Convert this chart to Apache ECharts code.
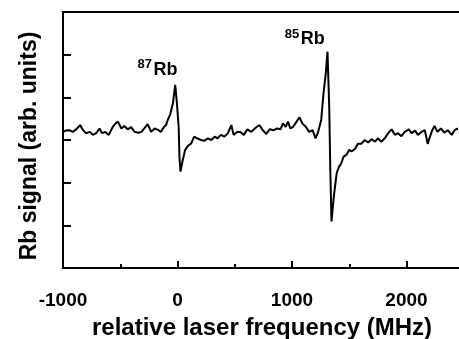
<!DOCTYPE html>
<html>
<head>
<meta charset="utf-8">
<script src="https://cdn.jsdelivr.net/npm/echarts@6/dist/echarts.min.js"></script>
<style>
html,body{margin:0;padding:0;background:#fff;}
#chart{width:459px;height:339px;}
</style>
</head>
<body>
<div id="chart"></div>
<script>
// relative laser frequency (MHz)
const freq = [
-1000,-975,-945,-915,-885,-850,-830,-800,-765,-740,-710,-680,-660,-630,-600,-565,-540,-520,-490,-465,
-435,-405,-375,-345,-315,-290,-260,-230,-200,-165,-145,-120,-100,-85,-65,-40,-20,-5,10,17,
26,46,67,90,120,145,170,205,235,265,295,325,350,380,410,440,470,490,520,550,
580,610,645,675,690,715,745,775,805,840,870,900,920,945,965,985,1010,1040,1065,1090,
1120,1150,1180,1205,1225,1255,1275,1295,1310,1325,1335,1345,1365,1390,1410,1430,1450,1475,1500,1520,
1550,1575,1605,1635,1665,1695,1725,1750,1780,1810,1840,1870,1900,1925,1955,1985,2020,2045,2075,2100,
2130,2160,2185,2205,2225,2245,2270,2300,2330,2360,2395,2420,2450
];
// Rb signal (arb. units)
const signal = [
3.19,3.22,3.23,3.19,3.25,3.35,3.25,3.16,3.19,3.12,3.16,3.27,3.16,3.19,3.12,3.31,3.39,3.43,3.27,3.33,
3.25,3.30,3.19,3.17,3.19,3.27,3.37,3.19,3.27,3.23,3.19,3.30,3.35,3.47,3.59,3.86,4.29,3.86,3.31,2.61,
2.26,2.53,2.77,2.86,2.92,3.08,3.04,3.00,2.98,3.04,3.00,3.08,3.04,3.12,3.08,3.16,3.35,3.12,3.19,3.19,
3.12,3.25,3.19,3.27,3.31,3.35,3.23,3.14,3.25,3.23,3.27,3.25,3.39,3.31,3.43,3.27,3.31,3.43,3.53,3.39,
3.31,3.19,3.23,3.04,3.16,3.47,4.09,4.56,5.07,3.78,2.22,1.09,1.67,2.22,2.37,2.45,2.61,2.65,2.77,2.73,
2.79,2.91,2.91,3.00,2.94,3.02,2.96,3.04,2.96,3.04,3.16,3.25,3.12,3.16,3.09,3.19,3.25,3.16,3.22,3.12,
3.19,3.23,2.91,3.08,3.23,3.33,3.19,3.27,3.17,3.23,3.12,3.23,3.27
];
const xTickLabels = ['-1000','0','1000','2000'];
const xTitle = 'relative laser frequency (MHz)';
const yTitle = 'Rb signal (arb. units)';
// isotope annotations, anchored in data coordinates (MHz, arb. units)
const isotopeMass = ['87', '85'];
const isotopeElement = ['Rb', 'Rb'];
const isotopeAnchorFreq = [-350, 936];
const isotopeAnchorSignal = [4.80, 5.51];

const FONT = '"Liberation Sans", Arial, Helvetica, sans-serif';
const chart = echarts.init(document.getElementById('chart'), null, {renderer:'canvas'});
const pts = freq.map((f,i)=>[f, signal[i]]);

chart.setOption({
  animation:false,
  backgroundColor:'#fff',
  grid:{left:63, top:12, width:458, height:256, outerBoundsMode:'none', containLabel:false,
        show:true, borderColor:'#000', borderWidth:2, backgroundColor:'transparent'},
  xAxis:{
    type:'value', min:-1000, max:3000, interval:1000,
    axisLine:{onZero:false, lineStyle:{color:'#000', width:2}},
    axisTick:{inside:true, length:7, lineStyle:{color:'#000', width:2}},
    minorTick:{show:true, splitNumber:2, length:4, lineStyle:{color:'#000', width:2}},
    splitLine:{show:false},
    axisLabel:{
      color:'#000', fontFamily:FONT, fontWeight:'bold', fontSize:19, margin:23,
      formatter:(v)=> xTickLabels.indexOf(String(v))>=0 ? String(v) : ''
    }
  },
  yAxis:{
    type:'value', min:0, max:6, interval:1,
    axisLine:{show:true, onZero:false, lineStyle:{color:'#000', width:2}},
    axisTick:{show:true, inside:true, length:8, lineStyle:{color:'#000', width:2}},
    splitLine:{show:false},
    axisLabel:{show:false}
  },
  series:[{
    type:'line', data:pts, showSymbol:false, symbol:'none',
    lineStyle:{color:'#000', width:2}, clip:true
  }]
});

const g = [];
isotopeMass.forEach((m,i)=>{
  const px = chart.convertToPixel({gridIndex:0}, [isotopeAnchorFreq[i], isotopeAnchorSignal[i]]);
  g.push({type:'text', x:px[0], y:px[1]-5, style:{text:m, font:'bold 13px '+FONT, fill:'#000', textVerticalAlign:'top'}});
  g.push({type:'text', x:px[0]+16, y:px[1]-2.5, style:{text:isotopeElement[i], font:'bold 18px '+FONT, fill:'#000', textVerticalAlign:'top'}});
});
g.push({type:'text', x:262, y:328, style:{text:xTitle, font:'bold 24px '+FONT, fill:'#000', textAlign:'center', textVerticalAlign:'middle'}});
g.push({type:'text', x:30, y:146, rotation:Math.PI/2, style:{text:yTitle, font:'bold 23px '+FONT, fill:'#000', textAlign:'center', textVerticalAlign:'middle'}});
chart.setOption({graphic:g});
</script>
</body>
</html>
